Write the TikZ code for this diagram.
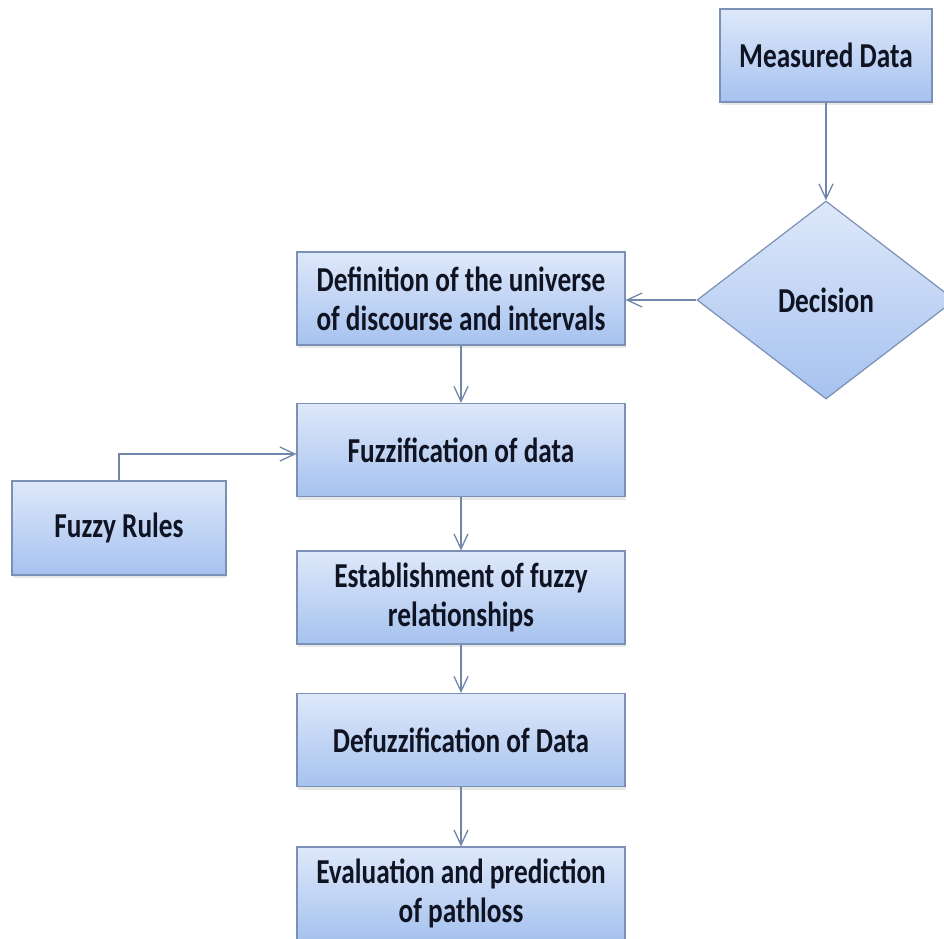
\documentclass[tikz,border=0pt]{standalone}
\usepackage{fontspec}
\setmainfont{Carlito}[FakeStretch=0.78]
\usepackage{tikz}
\usetikzlibrary{arrows.meta,shapes.geometric,shadows}
\usepackage{xcolor}
\definecolor{boxtop}{RGB}{222,232,250}
\definecolor{boxbot}{RGB}{166,194,239}
\definecolor{boxline}{RGB}{122,145,181}
\definecolor{linkblue}{RGB}{112,135,170}
\definecolor{inkdark}{RGB}{16,20,34}

\begin{document}
\begin{tikzpicture}[x=1pt,y=-1pt,
    every node/.style={font=\fontsize{35}{39}\selectfont\bfseries,text=inkdark,align=center},
    flowbox/.style={draw=boxline,line width=1.2pt,top color=boxtop,bottom color=boxbot,
      inner sep=0pt,minimum width=328pt,minimum height=93pt,
      drop shadow={opacity=0.18,shadow xshift=1pt,shadow yshift=-3pt}},
    decbox/.style={diamond,draw=boxline,line width=1.2pt,top color=boxtop,bottom color=boxbot,
      inner sep=0pt,minimum width=258pt,minimum height=198pt},
    link/.style={draw=linkblue,line width=1.3pt,-{Straight Barb[length=15pt,width=14pt,line width=1.3pt]}}]
  \useasboundingbox (0,0) rectangle (944,938);
  \fill[white] (0,0) rectangle (944,938);
  % input and decision
  \node[flowbox,minimum width=212pt] (meas) at (826,55.5) {Measured Data};
  \node[decbox] (dec) at (826,300) {Decision};
  % main column
  \node[flowbox] (def) at (461,298.5) {Definition of the universe\\of discourse and intervals};
  \node[flowbox] (fuzz) at (461,450) {Fuzzification of data};
  \node[flowbox] (estab) at (461,597.5) {Establishment of fuzzy\\relationships};
  \node[flowbox] (defuzz) at (461,740) {Defuzzification of Data};
  \node[flowbox] (eval) at (461,893.5) {Evaluation and prediction\\of pathloss};
  % side input
  \node[flowbox,minimum width=214pt,minimum height=94pt] (rules) at (119,528) {Fuzzy Rules};
  % connectors
  \draw[link] (meas) -- (dec);
  \draw[link] (dec.west) -- (dec.west -| def.east);
  \draw[link] (rules.north) |- ([yshift=-4pt]fuzz.west);
  \foreach \a/\b in {def/fuzz,fuzz/estab,estab/defuzz,defuzz/eval}
    \draw[link] (\a) -- (\b);
\end{tikzpicture}
\end{document}
